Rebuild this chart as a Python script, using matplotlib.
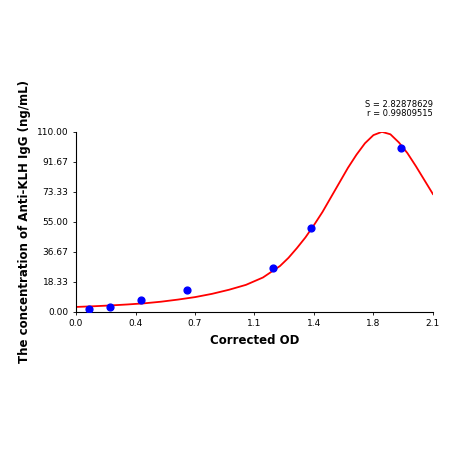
import matplotlib
matplotlib.use("Agg")
import matplotlib.pyplot as plt

pts_x = [0.076, 0.20, 0.38, 0.65, 1.16, 1.38, 1.91]
pts_y = [1.5, 3.0, 7.0, 13.5, 26.5, 51.0, 100.0]
curve_x = [0.0, 0.1, 0.2, 0.3, 0.4, 0.5, 0.6, 0.7, 0.8, 0.9, 1.0, 1.1, 1.2, 1.25, 1.3, 1.35, 1.4, 1.45, 1.5, 1.55, 1.6, 1.65, 1.7, 1.75, 1.8, 1.85, 1.9, 1.95, 2.0, 2.05, 2.1]
curve_y = [3.0, 3.4, 3.9, 4.5, 5.2, 6.2, 7.5, 9.0, 11.0, 13.5, 16.5, 21.0, 28.0, 33.0, 39.0, 45.5, 53.0, 61.0, 70.0, 79.0, 88.0, 96.0, 103.0, 108.0, 110.0, 108.5, 103.5, 97.0, 89.0, 80.5, 72.0]
xticks = [0.0, 0.35, 0.7, 1.05, 1.4, 1.75, 2.1]
xlabels = ["0.0", "0.4", "0.7", "1.1", "1.4", "1.8", "2.1"]
yticks = [0.0, 18.33, 36.67, 55.0, 73.33, 91.67, 110.0]
ylabels = ["0.00", "18.33", "36.67", "55.00", "73.33", "91.67", "110.00"]

fig = plt.figure(figsize=(4.5, 4.5), dpi=100)
ax = fig.add_axes([0.169, 0.307, 0.793, 0.4])
ax.plot(curve_x, curve_y, color="red", lw=1.3, zorder=2)
ax.scatter(pts_x, pts_y, color="blue", s=24, zorder=3)
ax.set_xlim(0, 2.1)
ax.set_ylim(0, 110)
ax.set_xticks(xticks)
ax.set_xticklabels(xlabels, fontsize=6.5)
ax.set_yticks(yticks)
ax.set_yticklabels(ylabels, fontsize=6.5)
ax.tick_params(length=2, width=0.6)
for s in ["top", "right"]:
    ax.spines[s].set_visible(False)
ax.set_xlabel("Corrected OD", fontsize=8.5, fontweight="bold")
ax.set_ylabel("The concentration of Anti-KLH IgG (ng/mL)", fontsize=8.5, fontweight="bold")
fig.text(0.962, 0.762, "S = 2.82878629", fontsize=6, ha="right")
fig.text(0.962, 0.742, "r = 0.99809515", fontsize=6, ha="right")
fig.savefig("out.png", dpi=100)
